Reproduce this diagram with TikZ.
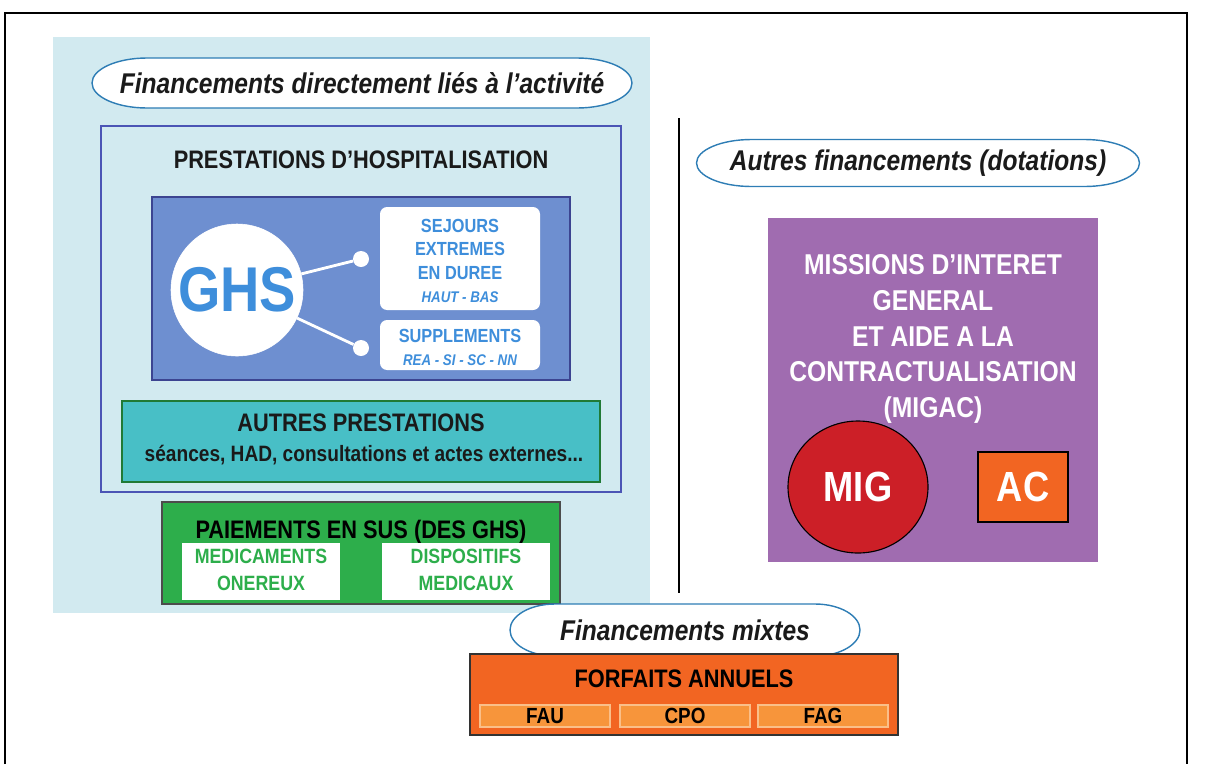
\documentclass[tikz,border=0pt]{standalone}
\usepackage{fontspec}
\setmainfont[FakeStretch=0.86]{Liberation Sans}
\usetikzlibrary{shapes.geometric}

\definecolor{skyback}{HTML}{D2EAF0}
\definecolor{bullerim}{HTML}{2E7DB5}
\definecolor{prestarim}{HTML}{4B55B5}
\definecolor{ghsback}{HTML}{6E8FD0}
\definecolor{ghsblue}{HTML}{3E8EDB}
\definecolor{tealback}{HTML}{48BFC6}
\definecolor{greenback}{HTML}{2DAE4B}
\definecolor{purpleback}{HTML}{A06CB0}
\definecolor{migred}{HTML}{CC1F27}
\definecolor{orangeback}{HTML}{F26522}
\definecolor{orangelight}{HTML}{F7953B}
\definecolor{darktext}{HTML}{1A1A1A}

\newcommand{\pxu}{0.025cm}
\tikzstyle{zone} = [rectangle,fill=skyback,inner sep=0pt]
\tikzstyle{bulle} = [draw=bullerim,line width=1pt,fill=white]
\tikzstyle{bulletxt} = [text=darktext,font=\fontsize{20.3}{23}\selectfont\bfseries\itshape]
\tikzstyle{titre} = [text=darktext,font=\fontsize{18}{21}\selectfont\bfseries]
\tikzstyle{carre} = [rectangle,inner sep=0pt]
\tikzstyle{blanc} = [rectangle,rounded corners=5pt,fill=white,inner sep=0pt]
\tikzstyle{ghstxt} = [text=ghsblue,align=center,font=\fontsize{13.5}{16.6}\selectfont\bfseries]
\tikzstyle{vert} = [text=greenback,align=center,font=\fontsize{14.7}{19}\selectfont\bfseries]
\tikzstyle{forfait} = [rectangle,draw=orangelight!60!white,fill=orangelight,line width=1pt,inner sep=0pt,text=black,font=\fontsize{15.6}{17}\selectfont\bfseries]

% bulle : nom, x, y, largeur, hauteur, rayon, texte
\newcommand{\bulle}[7]{%
	\path[bulle] (#2-#4/2+#6,#3-#5/2) -- (#2+#4/2-#6,#3-#5/2)
		arc[start angle=90,end angle=-90,x radius=#6*\pxu,y radius=#5/2*\pxu]
		-- (#2-#4/2+#6,#3+#5/2)
		arc[start angle=-90,end angle=-270,x radius=#6*\pxu,y radius=#5/2*\pxu] -- cycle;
	\node[bulletxt] at (#2,#3) (#1) {#7};}

\begin{document}
\begin{tikzpicture}[x=0.025cm,y=-0.025cm]
\useasboundingbox (0,0) rectangle (1208,764);
\draw[line width=2pt] (5,764) -- (5,13) -- (1187,13) -- (1187,764);

% financements lies a l'activite
\node[zone,minimum width=597*\pxu,minimum height=576*\pxu] at (351.5,325) (activite) {};
\bulle{bulleact}{362}{83}{540}{50}{55}{Financements directement liés à l’activité}

\node[carre,draw=prestarim,line width=2pt,minimum width=520*\pxu,minimum height=366*\pxu] at (361,309) (presta) {};
\node[titre] at (361,160) (prestatitre) {PRESTATIONS D’HOSPITALISATION};

\node[carre,draw=prestarim!80!black,fill=ghsback,line width=0.8pt,minimum width=418*\pxu,minimum height=183*\pxu] at (361,288.5) (ghsbox) {};
\node[circle,fill=white,draw=white,minimum size=132*\pxu,inner sep=0pt,text=ghsblue,font=\fontsize{45}{50}\selectfont\bfseries] at (237,290) (ghs) {GHS};
\node[circle,fill=white,minimum size=16*\pxu,inner sep=0pt] at (361,259) (dot1) {};
\node[circle,fill=white,minimum size=16*\pxu,inner sep=0pt] at (361,348) (dot2) {};
\draw[white,line width=2pt] (ghs) -- (dot1);
\draw[white,line width=2pt] (ghs) -- (dot2);

\node[blanc,minimum width=160*\pxu,minimum height=103*\pxu] at (460,258.5) (sejours) {};
\node[ghstxt] at (460,261) (sejourstxt) {SEJOURS\\EXTREMES\\EN DUREE\\{\fontsize{11}{13}\selectfont\itshape HAUT - BAS}};
\node[blanc,minimum width=160*\pxu,minimum height=50*\pxu] at (460,345) (supp) {};
\node[ghstxt] at (460,347.5) (supptxt) {SUPPLEMENTS\\{\fontsize{11}{13}\selectfont\itshape REA - SI - SC - NN}};

\node[carre,draw=greenback!70!black,fill=tealback,line width=0.8pt,minimum width=478*\pxu,minimum height=81*\pxu] at (361,441.5) (autres) {};
\node[titre] at (361,423) (autrestitre) {AUTRES PRESTATIONS};
\node[text=darktext,font=\fontsize{15.8}{18}\selectfont\bfseries] at (364,455) (autrestxt) {séances, HAD, consultations et actes externes...};

\node[carre,draw=black!70,fill=greenback,line width=0.8pt,minimum width=398*\pxu,minimum height=102*\pxu] at (361,553) (sus) {};
\node[titre,text=black] at (361,532) (sustitre) {PAIEMENTS EN SUS (DES GHS)};
\node[carre,fill=white,minimum width=158*\pxu,minimum height=57*\pxu] at (261,571.5) (medic) {};
\node[vert] at (261,570) (medictxt) {MEDICAMENTS\\ONEREUX};
\node[carre,fill=white,minimum width=168*\pxu,minimum height=57*\pxu] at (466,571.5) (dispo) {};
\node[vert] at (466,570) (dispotxt) {DISPOSITIFS\\MEDICAUX};

% separation
\coordinate (sephaut) at (679,118);
\coordinate (sepbas) at (679,593);
\draw[line width=2pt] (sephaut) -- (sepbas);

% dotations
\bulle{bulledot}{918}{163}{443}{47}{55}{Autres financements (dotations)}
\node[carre,fill=purpleback,minimum width=330*\pxu,minimum height=344*\pxu] at (933,390) (migac) {};
\node[text=white,align=center,font=\fontsize{20.4}{25.3}\selectfont\bfseries] at (933,339) (migactxt) {MISSIONS D’INTERET\\GENERAL\\ET AIDE A LA\\CONTRACTUALISATION\\(MIGAC)};
\node[ellipse,draw=black,fill=migred,line width=0.8pt,minimum width=140*\pxu,minimum height=132*\pxu,inner sep=0pt,text=white,font=\fontsize{30}{34}\selectfont\bfseries] at (858,487) (mig) {MIG};
\node[carre,draw=black,fill=orangeback,line width=0.8pt,minimum width=90*\pxu,minimum height=70*\pxu,text=white,font=\fontsize{30}{34}\selectfont\bfseries] at (1023,487) (ac) {AC};

% financements mixtes
\bulle{bullemix}{685}{630}{350}{52}{45}{Financements mixtes}
\node[carre,draw=black!80,fill=orangeback,line width=0.8pt,minimum width=428*\pxu,minimum height=81*\pxu] at (684,694.5) (forfaits) {};
\node[titre,text=black] at (684,679) (forfaitstitre) {FORFAITS ANNUELS};
\foreach \nom/\x in {FAU/545,CPO/685,FAG/823} {
	\node[forfait,minimum width=130*\pxu,minimum height=22*\pxu] at (\x,716) (\nom) {\nom};
}
\end{tikzpicture}
\end{document}
